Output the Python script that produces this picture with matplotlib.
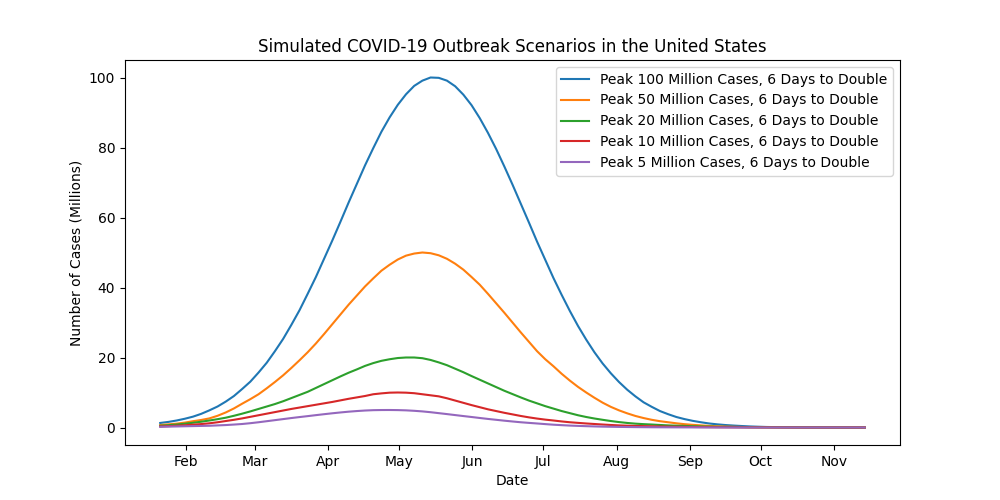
import matplotlib
matplotlib.use('Agg')
import matplotlib.pyplot as plt
import matplotlib.dates as mdates
import pandas as pd

# sample dates (millions of cases)
dates = pd.date_range('2020-01-21', '2020-11-14', periods=87)

peak_100 = [1.3, 1.6, 2.0, 2.5, 3.1, 3.9, 4.9, 6.0, 7.4, 9.0,
            11.0, 13.1, 15.7, 18.5, 21.8, 25.3, 29.3, 33.5, 38.2, 43.0,
            48.2, 53.4, 58.8, 64.3, 69.6, 74.9, 79.8, 84.5, 88.6, 92.2,
            95.2, 97.6, 99.1, 100.0, 99.9, 99.1, 97.5, 95.1, 92.1, 88.4,
            84.2, 79.6, 74.6, 69.4, 64.0, 58.6, 53.1, 47.9, 42.7, 37.9,
            33.3, 29.0, 25.1, 21.5, 18.3, 15.5, 13.0, 10.8, 8.9, 7.2,
            5.9, 4.7, 3.8, 3.0, 2.4, 1.9, 1.5, 1.15, 0.9, 0.7,
            0.55, 0.42, 0.3, 0.22, 0.15, 0.11, 0.08, 0.06, 0.04, 0.03,
            0.02, 0.015, 0.01, 0.005, 0.0, 0.0, 0.0]
peak_50 = [0.7, 0.9, 1.1, 1.4, 1.8, 2.15, 2.6, 3.35, 4.3, 5.45,
           6.8, 8.1, 9.5, 11.2, 13.0, 14.9, 17.0, 19.2, 21.5, 24.0,
           26.7, 29.5, 32.3, 35.1, 37.7, 40.3, 42.6, 44.8, 46.5, 48.0,
           49.1, 49.7, 50.0, 49.8, 49.2, 48.2, 46.8, 45.1, 43.0, 40.8,
           38.2, 35.5, 32.8, 30.0, 27.2, 24.5, 21.8, 19.5, 17.5, 15.35,
           13.4, 11.6, 10.0, 8.5, 7.1, 5.9, 4.9, 4.05, 3.3, 2.7,
           2.2, 1.8, 1.5, 1.2, 0.95, 0.76, 0.6, 0.46, 0.35, 0.27,
           0.2, 0.15, 0.1, 0.07, 0.05, 0.04, 0.03, 0.025, 0.02, 0.015,
           0.01, 0.005, 0.0, 0.0, 0.0, 0.0, 0.0]
peak_20 = [0.5, 0.66, 0.85, 1.08, 1.35, 1.65, 2.0, 2.38, 2.8, 3.35,
           3.95, 4.6, 5.3, 6.0, 6.7, 7.5, 8.4, 9.3, 10.2, 11.3,
           12.4, 13.5, 14.6, 15.65, 16.6, 17.6, 18.4, 19.05, 19.5, 19.85,
           20.0, 20.0, 19.8, 19.3, 18.6, 17.8, 16.8, 15.8, 14.7, 13.65,
           12.6, 11.55, 10.5, 9.55, 8.6, 7.7, 6.9, 6.1, 5.4, 4.7,
           4.1, 3.5, 3.0, 2.57, 2.2, 1.85, 1.55, 1.3, 1.1, 0.96,
           0.85, 0.72, 0.6, 0.52, 0.45, 0.37, 0.3, 0.25, 0.2, 0.17,
           0.15, 0.12, 0.1, 0.085, 0.07, 0.06, 0.05, 0.04, 0.03, 0.025,
           0.02, 0.015, 0.01, 0.005, 0.0, 0.0, 0.0]
peak_10 = [0.3, 0.4, 0.5, 0.64, 0.8, 0.98, 1.2, 1.5, 1.85, 2.2,
           2.6, 3.05, 3.5, 3.95, 4.4, 4.85, 5.3, 5.7, 6.1, 6.5,
           6.9, 7.3, 7.75, 8.2, 8.6, 9.0, 9.5, 9.75, 9.95, 10.0,
           9.95, 9.8, 9.5, 9.2, 8.9, 8.35, 7.7, 7.05, 6.4, 5.8,
           5.2, 4.7, 4.2, 3.75, 3.3, 2.9, 2.55, 2.25, 2.0, 1.73,
           1.5, 1.32, 1.15, 1.0, 0.85, 0.72, 0.6, 0.52, 0.45, 0.4,
           0.35, 0.3, 0.25, 0.21, 0.18, 0.15, 0.12, 0.1, 0.08, 0.065,
           0.05, 0.04, 0.03, 0.025, 0.02, 0.015, 0.01, 0.005, 0.0, 0.0,
           0.0, 0.0, 0.0, 0.0, 0.0, 0.0, 0.0]
peak_5 = [0.2, 0.25, 0.3, 0.35, 0.4, 0.45, 0.5, 0.6, 0.7, 0.84,
          1.0, 1.23, 1.5, 1.8, 2.1, 2.4, 2.7, 2.98, 3.25, 3.53,
          3.8, 4.06, 4.3, 4.52, 4.7, 4.85, 4.95, 4.99, 5.0, 4.97,
          4.9, 4.77, 4.6, 4.37, 4.1, 3.83, 3.55, 3.27, 3.0, 2.72,
          2.45, 2.2, 1.95, 1.72, 1.5, 1.32, 1.15, 0.97, 0.8, 0.67,
          0.55, 0.46, 0.38, 0.31, 0.25, 0.21, 0.17, 0.14, 0.11, 0.09,
          0.07, 0.06, 0.05, 0.04, 0.03, 0.025, 0.02, 0.015, 0.01, 0.005,
          0.0, 0.0, 0.0, 0.0, 0.0, 0.0, 0.0, 0.0, 0.0, 0.0,
          0.0, 0.0, 0.0, 0.0, 0.0, 0.0, 0.0]

series = [peak_100, peak_50, peak_20, peak_10, peak_5]
labels = ['Peak 100 Million Cases, 6 Days to Double',
          'Peak 50 Million Cases, 6 Days to Double',
          'Peak 20 Million Cases, 6 Days to Double',
          'Peak 10 Million Cases, 6 Days to Double',
          'Peak 5 Million Cases, 6 Days to Double']

fig, ax = plt.subplots(figsize=(10, 5), dpi=100)
for vals, lab in zip(series, labels):
    ax.plot(dates, vals, label=lab)

ax.xaxis.set_major_locator(mdates.MonthLocator())
ax.xaxis.set_major_formatter(mdates.DateFormatter('%b'))
ax.set_xlabel('Date')
ax.set_ylabel('Number of Cases (Millions)')
ax.set_title('Simulated COVID-19 Outbreak Scenarios in the United States')
ax.legend(loc='upper right')

fig.savefig('out.png')
